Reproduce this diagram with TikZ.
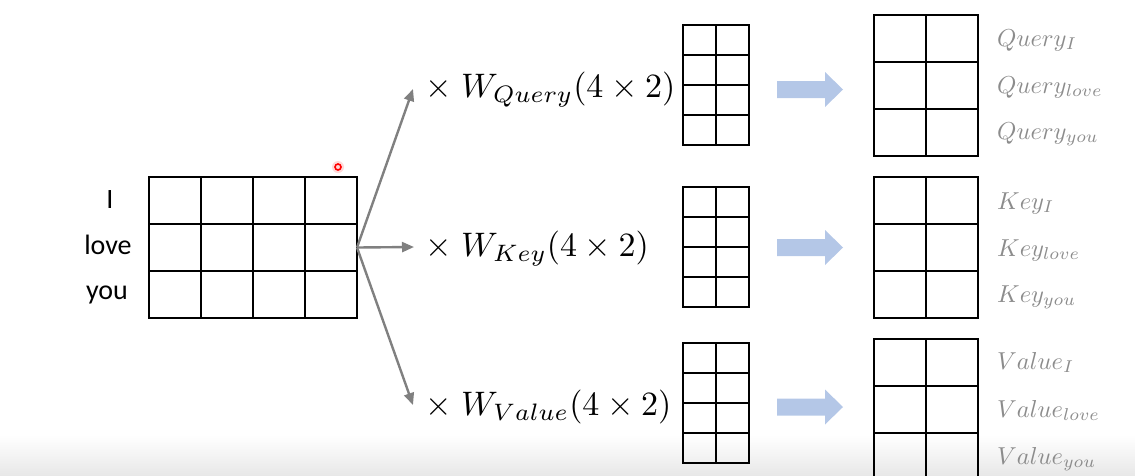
\documentclass[tikz,border=0pt]{standalone}
\usepackage{graphicx}
\usepackage{fontspec}
\newfontfamily\labfont{Carlito}
\usetikzlibrary{arrows.meta,calc}
\definecolor{arrowgray}{RGB}{128,128,128}
\definecolor{blockblue}{RGB}{180,199,231}
\definecolor{labgray}{RGB}{140,140,140}
\newcommand{\bigmath}[1]{\scalebox{3.4}{$#1$}}
\newcommand{\midmath}[1]{\scalebox{2.45}{$#1$}}
\begin{document}
\begin{tikzpicture}[x=1pt,y=-1pt,
  matbox/.style={draw=black,line width=2pt,inner sep=0pt,outer sep=0pt,anchor=north west},
  gridline/.style={draw=black,line width=2pt},
  wordlab/.style={font=\labfont\fontsize{28}{32}\selectfont,anchor=base,inner sep=0pt},
  wlab/.style={font=\fontsize{10}{12}\selectfont,anchor=base west,inner sep=0pt},
  outlab/.style={font=\fontsize{10}{12}\selectfont,text=labgray,anchor=base west,inner sep=0pt},
  grayarrow/.style={draw=arrowgray,line width=2.4pt,-{Triangle[length=12pt,width=10pt]}},
  bluearrow/.style={fill=blockblue}]
\useasboundingbox (0,0) rectangle (1135,475);
\shade[top color=white,bottom color=black!9] (0,435) rectangle (1135,475);

% input matrix
\node[matbox,minimum width=208pt,minimum height=141pt] (in) at (149,177) {};
\foreach \i in {1,2,3}
  \draw[gridline] ($(in.north west)!\i/4!(in.north east)$) -- ($(in.south west)!\i/4!(in.south east)$);
\foreach \i in {1,2}
  \draw[gridline] ($(in.north west)!\i/3!(in.south west)$) -- ($(in.north east)!\i/3!(in.south east)$);

\node[wordlab] (wI) at (110,208) {I};
\node[wordlab] (wlove) at (108,254) {love};
\node[wordlab] (wyou) at (107,299) {you};

% laser dot
\fill[red!25,opacity=0.6] (338,167) circle (6pt);
\draw[red,line width=1.6pt,fill=red!15] (338,167) circle (3pt);

% weight labels
\node[wlab] (wq) at (425,97) {\bigmath{\times\; W_{Query}(4\times 2)}};
\node[wlab] (wk) at (425,256) {\bigmath{\times\; W_{Key}(4\times 2)}};
\node[wlab] (wv) at (425,415) {\bigmath{\times\; W_{Value}(4\times 2)}};

\coordinate (tq) at (413,89);
\coordinate (tk) at (414,247);
\coordinate (tv) at (413,405);
\draw[grayarrow] (in.east) -- (tq);
\draw[grayarrow] (in.east) -- (tk);
\draw[grayarrow] (in.east) -- (tv);

% small weight matrices
\foreach \n/\y in {mq/25,mk/187,mv/343}{
  \node[matbox,minimum width=66pt,minimum height=120pt] (\n) at (683,\y) {};
  \draw[gridline] (\n.north) -- (\n.south);
  \foreach \i in {1,2,3}
    \draw[gridline] ($(\n.north west)!\i/4!(\n.south west)$) -- ($(\n.north east)!\i/4!(\n.south east)$);
}

% block arrows
\foreach \y in {89.5,247.5,407}{
  \fill[bluearrow] (777,\y-8.5) -- (825,\y-8.5) -- (825,\y-17.5) -- (843,\y) -- (825,\y+17.5) -- (825,\y+8.5) -- (777,\y+8.5) -- cycle;
}

% output matrices
\foreach \n/\y in {oq/15,ok/177,ov/339}{
  \node[matbox,minimum width=104pt,minimum height=141pt] (\n) at (874,\y) {};
  \draw[gridline] (\n.north) -- (\n.south);
  \foreach \i in {1,2}
    \draw[gridline] ($(\n.north west)!\i/3!(\n.south west)$) -- ($(\n.north east)!\i/3!(\n.south east)$);
}

% output labels
\node[outlab] (q1) at (997,46) {\midmath{Query_{I}}};
\node[outlab] (q2) at (997,93) {\midmath{Query_{love}}};
\node[outlab] (q3) at (997,139) {\midmath{Query_{you}}};
\node[outlab] (k1) at (997,209) {\midmath{Key_{I}}};
\node[outlab] (k2) at (997,256) {\midmath{Key_{love}}};
\node[outlab] (k3) at (997,302) {\midmath{Key_{you}}};
\node[outlab] (v1) at (997,369) {\midmath{Value_{I}}};
\node[outlab] (v2) at (997,417) {\midmath{Value_{love}}};
\node[outlab] (v3) at (997,464) {\midmath{Value_{you}}};
\end{tikzpicture}
\end{document}
